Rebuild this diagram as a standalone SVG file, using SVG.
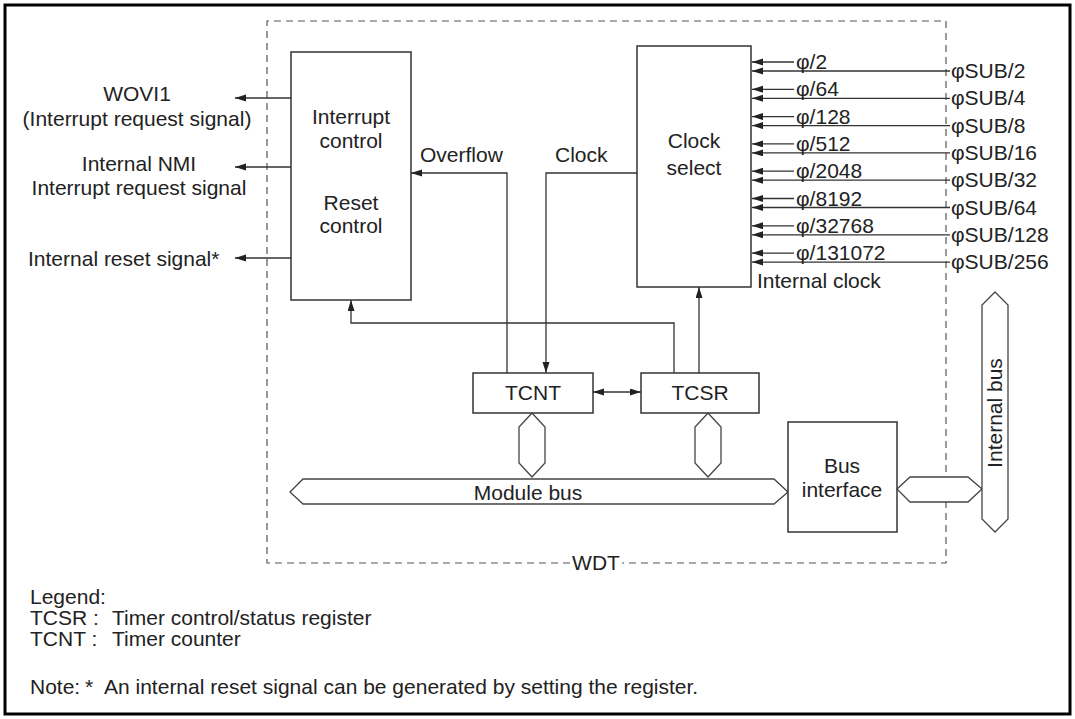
<svg xmlns="http://www.w3.org/2000/svg" width="1075" height="719" viewBox="0 0 1075 719">
<defs>
<marker id="ah" markerWidth="12" markerHeight="8" refX="11" refY="3.5" orient="auto-start-reverse" markerUnits="userSpaceOnUse"><path d="M0,0 L11,3.5 L0,7 z" fill="#222"/></marker>
<style>
text{font-family:"Liberation Sans",Arial,Helvetica,sans-serif;font-size:21px;fill:#222}
.m{text-anchor:middle}
.box{fill:#fff;stroke:#333;stroke-width:1.5}
.bus{fill:#fff;stroke:#444;stroke-width:1.3}
.ln{fill:none;stroke:#333;stroke-width:1.3}
.arr{marker-end:url(#ah)}
.dash{fill:none;stroke:#555;stroke-width:1.2;stroke-dasharray:7 5}
</style>
</defs>
<rect x="0" y="0" width="1075" height="719" fill="#fff"/>
<rect x="5" y="5" width="1065" height="709" fill="none" stroke="#000" stroke-width="3"/>

<g id="wdt">
<path class="dash" d="M570,563 H267 V21 H946 V563 H622"/>
<text class="m" x="596" y="570">WDT</text>
</g>

<g id="connectors">
<path class="ln arr" d="M291,98 H235"/>
<path class="ln arr" d="M291,167 H235"/>
<path class="ln arr" d="M291,258 H235"/>
<path class="ln arr" d="M507,373 V173 H411"/>
<path class="ln arr" d="M637,173 H546 V373"/>
<path class="ln arr" d="M674,373 V323 H351 V300"/>
<path class="ln arr" d="M699,373 V287"/>
<path class="ln arr" d="M593,392 H641" marker-start="url(#ah)"/>
<path class="ln arr" d="M794,62 H752"/>
<path class="ln arr" d="M794,89.3 H752"/>
<path class="ln arr" d="M794,116.6 H752"/>
<path class="ln arr" d="M794,143.9 H752"/>
<path class="ln arr" d="M794,171.2 H752"/>
<path class="ln arr" d="M794,198.5 H752"/>
<path class="ln arr" d="M794,225.8 H752"/>
<path class="ln arr" d="M794,253.1 H752"/>
<path class="ln arr" d="M950,71 H752"/>
<path class="ln arr" d="M950,98.3 H752"/>
<path class="ln arr" d="M950,125.6 H752"/>
<path class="ln arr" d="M950,152.9 H752"/>
<path class="ln arr" d="M950,180.2 H752"/>
<path class="ln arr" d="M950,207.5 H752"/>
<path class="ln arr" d="M950,234.8 H752"/>
<path class="ln arr" d="M950,262.1 H752"/>
</g>

<g id="outputs">
<text class="m" x="137" y="101">WOVI1</text>
<text class="m" x="137" y="126">(Interrupt request signal)</text>
<text class="m" x="139" y="171">Internal NMI</text>
<text class="m" x="139" y="195">Interrupt request signal</text>
<text x="28" y="266">Internal reset signal*</text>
</g>

<g id="interrupt-control">
<rect class="box" x="291" y="52" width="120" height="248"/>
<text class="m" x="351" y="124">Interrupt</text>
<text class="m" x="351" y="148">control</text>
<text class="m" x="351" y="210">Reset</text>
<text class="m" x="351" y="233">control</text>
</g>

<g id="labels">
<text x="420" y="162">Overflow</text>
<text x="555" y="162">Clock</text>
</g>

<g id="clock-select">
<rect class="box" x="637" y="46" width="114" height="241"/>
<text class="m" x="694" y="148">Clock</text>
<text class="m" x="694" y="175">select</text>
</g>

<g id="clock-inputs">
<text x="796" y="69">φ/2</text>
<text x="796" y="96.3">φ/64</text>
<text x="796" y="123.6">φ/128</text>
<text x="796" y="150.9">φ/512</text>
<text x="796" y="178.2">φ/2048</text>
<text x="796" y="205.5">φ/8192</text>
<text x="796" y="232.8">φ/32768</text>
<text x="796" y="260.1">φ/131072</text>
<text x="951" y="78">φSUB/2</text>
<text x="951" y="105.3">φSUB/4</text>
<text x="951" y="132.6">φSUB/8</text>
<text x="951" y="159.9">φSUB/16</text>
<text x="951" y="187.2">φSUB/32</text>
<text x="951" y="214.5">φSUB/64</text>
<text x="951" y="241.8">φSUB/128</text>
<text x="951" y="269.1">φSUB/256</text>
<text x="757" y="288">Internal clock</text>
</g>

<g id="tcnt">
<rect class="box" x="473" y="373" width="120" height="40"/>
<text class="m" x="533" y="400">TCNT</text>
</g>

<g id="tcsr">
<rect class="box" x="641" y="373" width="118" height="40"/>
<text class="m" x="700" y="400">TCSR</text>
</g>

<g id="tcnt-bus">
<polygon class="bus" points="532,413 545,427 545,463 532,477 519,463 519,427"/>
</g>
<g id="tcsr-bus">
<polygon class="bus" points="708,413 721,427 721,463 708,477 695,463 695,427"/>
</g>

<g id="module-bus">
<polygon class="bus" points="290,492 303,479 774,479 788,492 774,504 303,504"/>
<text class="m" x="528" y="500">Module bus</text>
</g>

<g id="bus-interface">
<rect class="box" x="788" y="422" width="109" height="110"/>
<text class="m" x="842" y="473">Bus</text>
<text class="m" x="842" y="497">interface</text>
</g>

<g id="bus-link">
<polygon class="bus" points="897,489 910,477 968,477 982,489 968,502 910,502"/>
</g>

<g id="internal-bus">
<polygon class="bus" points="995,292 1008,305 1008,519 995,532 982,519 982,305"/>
<text class="m" transform="translate(1002,413) rotate(-90)">Internal bus</text>
</g>

<g id="legend">
<text x="30" y="604">Legend:</text>
<text x="30" y="625">TCSR :</text>
<text x="112" y="625">Timer control/status register</text>
<text x="30" y="646">TCNT :</text>
<text x="112" y="646">Timer counter</text>
<text x="30" y="694">Note:<tspan x="85">*</tspan><tspan x="104">An internal reset signal can be generated by setting the register.</tspan></text>
</g>
</svg>
